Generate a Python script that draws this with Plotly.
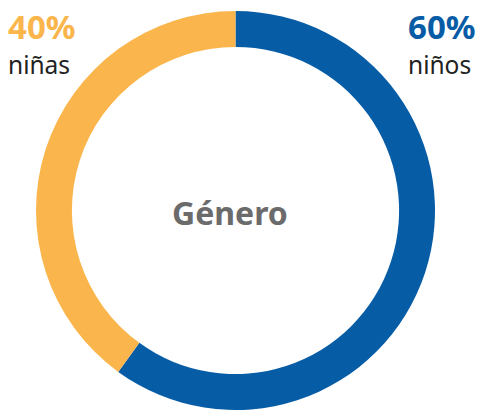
import plotly.graph_objects as go

labels = ["niños", "niñas"]
values = [60, 40]
colors = ["#075ca6", "#fab64c"]
pct_text = ["60%", "40%"]
center_title = "Género"

W, H = 481, 410

fig = go.Figure(go.Pie(
    labels=labels, values=values, hole=0.82, sort=False, direction="clockwise",
    rotation=0, marker=dict(colors=colors, line=dict(width=0)),
    textinfo="none", hoverinfo="label+percent", showlegend=False,
    domain=dict(x=[36 / W, 435 / W], y=[0, 1 - 11 / H]),
))

FONT = "Noto Sans"
def px(x): return x / W
def py(y): return 1 - y / H

anns = [
    dict(text=f"<b>{center_title}</b>", x=px(230), y=py(212), font=dict(size=32, color="#6b6b6b", family=FONT)),
    dict(text=f"<b>{pct_text[1]}</b>", x=px(6), y=py(26), xanchor="left", font=dict(size=33, color=colors[1], family=FONT)),
    dict(text=labels[1], x=px(6), y=py(64), xanchor="left", font=dict(size=24.5, color="#222222", family=FONT)),
    dict(text=f"<b>{pct_text[0]}</b>", x=px(406), y=py(26), xanchor="left", font=dict(size=33, color=colors[0], family=FONT)),
    dict(text=labels[0], x=px(406), y=py(64), xanchor="left", font=dict(size=24.5, color="#222222", family=FONT)),
]
for a in anns:
    a.update(xref="paper", yref="paper", showarrow=False, yanchor="middle")
    a.setdefault("xanchor", "center")

fig.update_layout(
    width=W, height=H, margin=dict(l=0, r=0, t=0, b=0),
    paper_bgcolor="white", plot_bgcolor="white", annotations=anns,
)
fig.write_html("out.html", config={"displayModeBar": False},
               post_script="document.body.style.margin='0px';document.body.style.overflow='hidden';")
